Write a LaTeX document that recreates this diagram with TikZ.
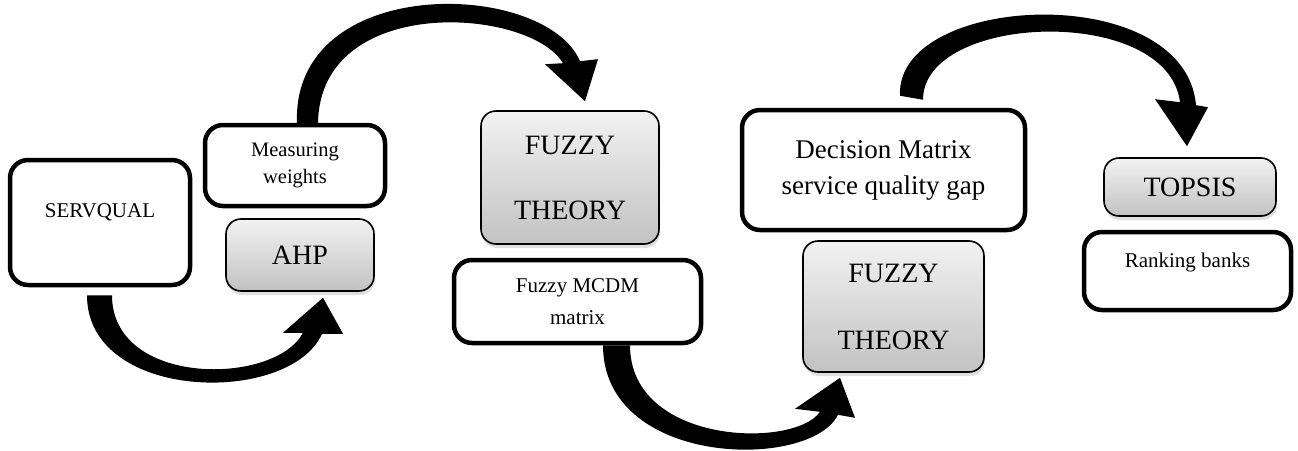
\documentclass[tikz,border=0pt]{standalone}
\usepackage{fontspec}
\setmainfont{Liberation Serif}
\usetikzlibrary{calc,shadows,backgrounds}
\definecolor{gtop}{RGB}{242,242,242}
\definecolor{gbot}{RGB}{194,194,194}
\begin{document}
\begin{tikzpicture}[x=1pt,y=-1pt,
  wbox/.style={draw=black, line width=4.5pt, rounded corners=18pt, fill=white, inner sep=0pt, align=center},
  gbox/.style={draw=black, line width=1.6pt, rounded corners=15pt, top color=gtop, bottom color=gbot, inner sep=0pt, align=center,
               drop shadow={shadow xshift=1pt, shadow yshift=-4pt, opacity=0.25}},
  bigarrow/.style={fill=black, draw=none}
]
\useasboundingbox (0,0) rectangle (1298,450);

\node[wbox, minimum width=180pt, minimum height=125pt, text height=15pt, text depth=26pt,
      font=\fontsize{21}{25}\selectfont] (sq) at (100,222.5) {SERVQUAL};
\node[wbox, minimum width=180pt, minimum height=81pt,
      font=\fontsize{20.5}{27}\selectfont] (mw) at (295,165.5) {Measuring\\weights};
\node[gbox, minimum width=148pt, minimum height=72pt,
      font=\fontsize{28}{34}\selectfont] (ahp) at (300,255) {AHP};
\node[gbox, minimum width=178pt, minimum height=133pt,
      font=\fontsize{28}{65}\selectfont] (fz1) at (570,177.5) {FUZZY\\THEORY};
\node[wbox, minimum width=247pt, minimum height=83pt,
      font=\fontsize{21}{32}\selectfont] (mcdm) at (577.5,301.5) {Fuzzy MCDM\\matrix};
\node[wbox, minimum width=283pt, minimum height=120pt,
      font=\fontsize{27}{36}\selectfont] (dm) at (883.5,170) {Decision Matrix\\service quality gap};
\node[gbox, minimum width=181pt, minimum height=131pt,
      font=\fontsize{28}{67}\selectfont] (fz2) at (893.5,306.5) {FUZZY\\THEORY};
\node[gbox, minimum width=172pt, minimum height=58pt,
      font=\fontsize{28}{34}\selectfont] (tp) at (1190,187) {TOPSIS};
\node[wbox, minimum width=207pt, minimum height=78pt, text height=14pt, text depth=22pt,
      font=\fontsize{21}{25}\selectfont] (rk) at (1187.5,271) {Ranking banks};

\begin{pgfonlayer}{background}
% SERVQUAL -> AHP
\fill[bigarrow] ($(sq.south)+(-13,8)$)
  .. controls ($(sq.south)+(-13,115)$) and ($(ahp.south)+(-10,114)$) .. ($(ahp.south)+(22,42)$)
  -- ($(ahp.south)+(43,42)$) -- ($(ahp.south)+(23,6)$) -- ($(ahp.south)+(-17,41)$) -- ($(ahp.south)+(3,41)$)
  .. controls ($(ahp.south)+(-25,94)$) and ($(sq.south)+(12,100)$) .. ($(sq.south)+(12,8)$) -- cycle;
% Measuring weights -> FUZZY THEORY
\fill[bigarrow] ($(mw.north)+(2,2)$)
  .. controls ($(mw.north)+(-5,-150)$) and ($(fz1.north)+(-25,-131)$) .. ($(fz1.north)+(10,-49)$)
  -- ($(fz1.north)+(28,-51)$) -- ($(fz1.north)+(15,-9)$) -- ($(fz1.north)+(-25,-46)$) -- ($(fz1.north)+(-7,-47)$)
  .. controls ($(fz1.north)+(-40,-103)$) and ($(mw.north)+(23,-130)$) .. ($(mw.north)+(23,2)$) -- cycle;
% Fuzzy MCDM matrix -> FUZZY THEORY
\fill[bigarrow] ($(mcdm.south)+(25.5,0)$)
  .. controls ($(mcdm.south)+(25.5,122)$) and ($(fz2.south)+(-83.5,98)$) .. ($(fz2.south)+(-55.5,42)$)
  -- ($(fz2.south)+(-38.5,45)$) -- ($(fz2.south)+(-53.5,5)$) -- ($(fz2.south)+(-98.5,36)$) -- ($(fz2.south)+(-73.5,39)$)
  .. controls ($(fz2.south)+(-98.5,76)$) and ($(mcdm.south)+(52.5,100)$) .. ($(mcdm.south)+(52.5,0)$) -- cycle;
% Decision Matrix -> TOPSIS
\fill[bigarrow] ($(dm.north)+(16.5,-12)$)
  .. controls ($(dm.north)+(11.5,-115)$) and ($(tp.north)+(-5,-178)$) .. ($(tp.north)+(6,-52)$)
  -- ($(tp.north)+(18,-50)$) -- ($(tp.north)+(-3,-11)$) -- ($(tp.north)+(-35,-58)$) -- ($(tp.north)+(-10,-55)$)
  .. controls ($(tp.north)+(-22,-153)$) and ($(dm.north)+(39.5,-95)$) .. ($(dm.north)+(39.5,-8)$) -- cycle;
\end{pgfonlayer}
\end{tikzpicture}
\end{document}
